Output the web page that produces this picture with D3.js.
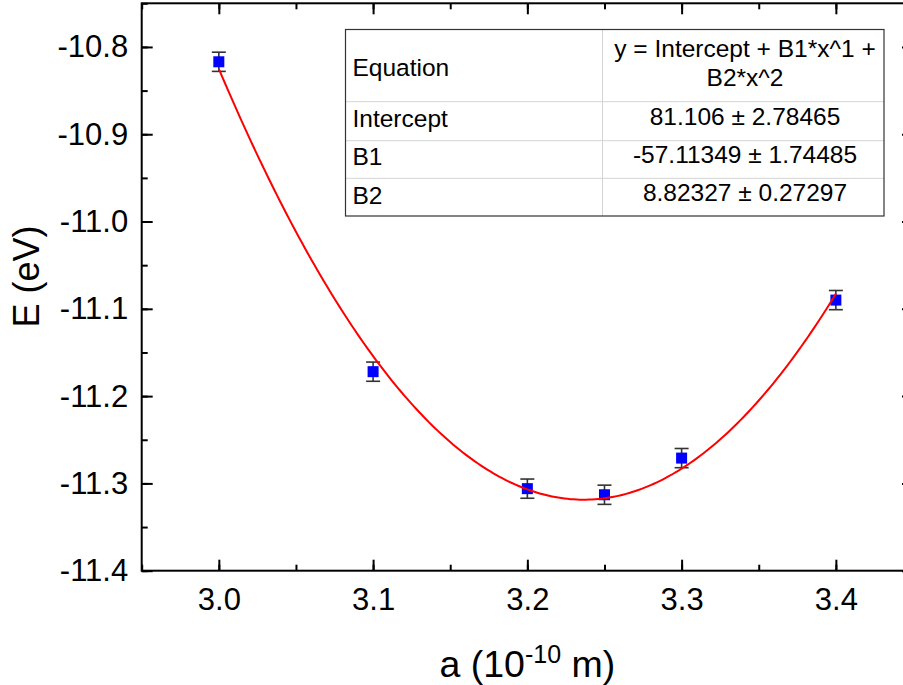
<!DOCTYPE html>
<html>
<head>
<meta charset="utf-8">
<script src="https://cdn.jsdelivr.net/npm/d3@7"></script>
<style>
  html, body { margin: 0; padding: 0; background: #fff; }
  svg { display: block; font-family: "Liberation Sans", Arial, sans-serif; }
</style>
</head>
<body>
<svg id="chart" width="903" height="685"></svg>
<script>
// ---- data ----
const latticeA = [3.0, 3.1, 3.2, 3.25, 3.3, 3.4];
const energyE = [-10.817, -11.172, -11.306, -11.313, -11.271, -11.090];
const energyErr = [0.011, 0.011, 0.011, 0.011, 0.011, 0.011];
const fitCoef = [81.106, -57.11349, 8.82327]; // Intercept, B1, B2
const xTicks = [3.0, 3.1, 3.2, 3.3, 3.4];
const yTicks = [-10.8, -10.9, -11.0, -11.1, -11.2, -11.3, -11.4];
const tableLabels = ["Equation", "Intercept", "B1", "B2"];
const tableValues = [["y = Intercept + B1*x^1 +", "B2*x^2"], ["81.106 \u00b1 2.78465"], ["-57.11349 \u00b1 1.74485"], ["8.82327 \u00b1 0.27297"]];

// ---- layout ----
const L = 141.7, R = 913, T = 3.3, B = 570.7;
const svg = d3.select("#chart");
const x = d3.scaleLinear().domain([2.95, 3.45]).range([L, R]);
const y = d3.scaleLinear().domain([-11.4, -10.75]).range([B, T]);
const fmt = d => d3.format(".1f")(d).replace("\u2212", "-");

const xMinor = d3.range(2.95, 3.451, 0.05).map(v => +v.toFixed(3));
const yMinor = d3.range(-11.4, -10.749, 0.05).map(v => +v.toFixed(3));

function styleAxis(g) {
  g.select(".domain").remove();
  g.selectAll(".tick line").attr("stroke", "#000").attr("stroke-width", 2);
}
function styleText(g) {
  g.selectAll("text").attr("font-size", 31).attr("fill", "#000")
    .attr("font-family", "Liberation Sans, Arial, sans-serif");
}

// bottom
svg.append("g").attr("transform", `translate(0,${B})`)
  .call(d3.axisBottom(x).tickValues(xMinor).tickSize(-6).tickFormat(""))
  .call(styleAxis);
svg.append("g").attr("transform", `translate(0,${B})`)
  .call(d3.axisBottom(x).tickValues(xTicks).tickSize(-11).tickPadding(17).tickFormat(fmt))
  .call(styleAxis).call(styleText);
// top
svg.append("g").attr("transform", `translate(0,${T})`)
  .call(d3.axisTop(x).tickValues(xMinor).tickSize(-6).tickFormat(""))
  .call(styleAxis);
svg.append("g").attr("transform", `translate(0,${T})`)
  .call(d3.axisTop(x).tickValues(xTicks).tickSize(-11).tickFormat(""))
  .call(styleAxis);
// left
svg.append("g").attr("transform", `translate(${L},0)`)
  .call(d3.axisLeft(y).tickValues(yMinor).tickSize(-6).tickFormat(""))
  .call(styleAxis);
svg.append("g").attr("transform", `translate(${L},0)`)
  .call(d3.axisLeft(y).tickValues(yTicks).tickSize(-11).tickPadding(13.5).tickFormat(fmt))
  .call(styleAxis).call(styleText);
// right
svg.append("g").attr("transform", `translate(${R},0)`)
  .call(d3.axisRight(y).tickValues(yMinor).tickSize(-6).tickFormat(""))
  .call(styleAxis);
svg.append("g").attr("transform", `translate(${R},0)`)
  .call(d3.axisRight(y).tickValues(yTicks).tickSize(-11).tickFormat(""))
  .call(styleAxis);

// frame
svg.append("rect").attr("x", L).attr("y", T).attr("width", R - L).attr("height", B - T)
  .attr("fill", "none").attr("stroke", "#000").attr("stroke-width", 2);

// axis titles
svg.append("text").attr("transform", `translate(38.5,276.5) rotate(-90)`)
  .attr("text-anchor", "middle").attr("font-size", 36).attr("fill", "#000").text("E (eV)");
const xt = svg.append("text").attr("x", (L + R) / 2).attr("y", 677)
  .attr("text-anchor", "middle").attr("font-size", 37.5).attr("fill", "#000");
xt.append("tspan").text("a (10");
xt.append("tspan").attr("font-size", 25).attr("dy", -14).text("-10");
xt.append("tspan").attr("dy", 14).text(" m)");

// data
const pts = latticeA.map((a, i) => ({ a, e: energyE[i], err: energyErr[i] }));
const eb = svg.append("g").attr("stroke", "#333").attr("stroke-width", 1.6).attr("fill", "none");
pts.forEach(p => {
  const cx = x(p.a), y1 = y(p.e + p.err), y2 = y(p.e - p.err);
  eb.append("line").attr("x1", cx).attr("x2", cx).attr("y1", y1).attr("y2", y2);
  eb.append("line").attr("x1", cx - 7).attr("x2", cx + 7).attr("y1", y1).attr("y2", y1);
  eb.append("line").attr("x1", cx - 7).attr("x2", cx + 7).attr("y1", y2).attr("y2", y2);
});
svg.append("g").selectAll("rect").data(pts).join("rect")
  .attr("x", d => x(d.a) - 5.5).attr("y", d => y(d.e) - 5.5)
  .attr("width", 11).attr("height", 11).attr("fill", "#0000ff");

// fit curve from table coefficients
const fitX = d3.range(0, 201).map(i => 3.0 + i * 0.002);
const fitLine = d3.line().x(d => x(d)).y(d => y(fitCoef[0] + fitCoef[1] * d + fitCoef[2] * d * d));
svg.append("path").datum(fitX).attr("d", fitLine)
  .attr("fill", "none").attr("stroke", "#ff0000").attr("stroke-width", 2);

// table
const tL = 345.5, tR = 884, tC = 602.5, tT = 29.5, tB = 216;
const rowLines = [101.7, 140.7, 178.3];
const tg = svg.append("g");
tg.append("rect").attr("x", tL).attr("y", tT).attr("width", tR - tL).attr("height", tB - tT)
  .attr("fill", "#fff").attr("stroke", "none");
rowLines.forEach(ry => tg.append("line").attr("x1", tL).attr("x2", tR).attr("y1", ry).attr("y2", ry)
  .attr("stroke", "#d4d4d4").attr("stroke-width", 1));
tg.append("line").attr("x1", tC).attr("x2", tC).attr("y1", tT).attr("y2", tB)
  .attr("stroke", "#d4d4d4").attr("stroke-width", 1);
tg.append("rect").attr("x", tL).attr("y", tT).attr("width", tR - tL).attr("height", tB - tT)
  .attr("fill", "none").attr("stroke", "#333").attr("stroke-width", 1.2);
const labelBase = [76, 127, 165, 204];
const valueBase = [[57, 86], [125], [163], [201]];
tableLabels.forEach((t, i) => tg.append("text").attr("x", 352.5).attr("y", labelBase[i])
  .attr("font-size", 24.5).attr("fill", "#000").text(t));
tableValues.forEach((lines, i) => lines.forEach((t, j) => tg.append("text")
  .attr("x", 745).attr("y", valueBase[i][j]).attr("text-anchor", "middle")
  .attr("font-size", 24.5).attr("fill", "#000").text(t)));
</script>
</body>
</html>
